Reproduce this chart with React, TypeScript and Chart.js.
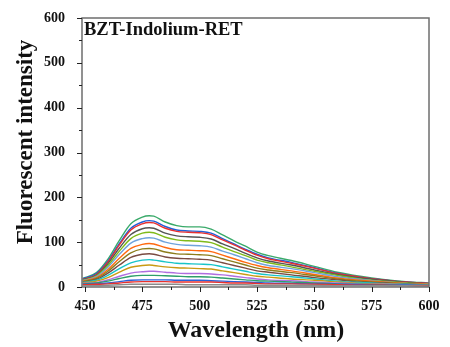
import React, { useEffect, useRef } from "react";
import { Chart, registerables } from "chart.js";
Chart.register(...registerables);

const wavelengths = [449, 455, 460, 465, 470, 475, 478, 480, 485, 490, 495, 500, 505, 510, 515, 520, 525, 530, 540, 550, 560, 570, 580, 590, 600];

const s1 = [19, 32, 62, 104, 141, 156, 159, 158, 145, 137, 134, 134, 129, 116, 103, 91, 78, 70, 59, 46, 33, 24, 17, 12, 9];
const s2 = [18, 30, 58, 97, 131, 145, 148, 147, 135, 127, 125, 124, 120, 108, 96, 84, 73, 65, 55, 43, 31, 22, 16, 11, 8];
const s3 = [17, 28, 56, 94, 127, 141, 144, 143, 131, 124, 122, 121, 117, 105, 94, 82, 71, 63, 53, 42, 30, 22, 16, 11, 8];
const s4 = [16, 26, 52, 87, 117, 130, 132, 131, 120, 114, 112, 111, 107, 96, 86, 75, 65, 58, 49, 38, 28, 20, 15, 10, 7];
const s5 = [15, 25, 48, 80, 108, 120, 122, 121, 111, 105, 103, 102, 99, 89, 79, 70, 60, 54, 45, 35, 26, 18, 13, 9, 7];
const s6 = [14, 23, 44, 73, 98, 108, 110, 109, 100, 95, 93, 92, 89, 80, 72, 63, 54, 48, 41, 32, 23, 17, 12, 8, 6];
const s7 = [13, 21, 39, 64, 86, 95, 97, 96, 88, 83, 82, 81, 79, 71, 63, 55, 48, 43, 36, 28, 20, 15, 11, 8, 6];
const s8 = [12, 19, 35, 57, 76, 85, 86, 85, 78, 74, 73, 72, 70, 63, 56, 49, 42, 38, 32, 25, 18, 13, 10, 7, 5];
const s9 = [11, 17, 31, 49, 66, 73, 74, 73, 67, 64, 63, 62, 60, 54, 48, 42, 36, 33, 27, 21, 16, 11, 9, 6, 5];
const s10 = [10, 15, 26, 41, 54, 60, 61, 60, 56, 53, 52, 51, 50, 45, 40, 35, 30, 27, 23, 18, 13, 10, 8, 6, 5];
const s11 = [9, 13, 21, 33, 44, 48, 49, 48, 45, 43, 42, 41, 40, 36, 32, 28, 24, 22, 18, 15, 11, 8, 7, 5, 4];
const s12 = [8, 10, 16, 24, 31, 34, 35, 35, 33, 31, 30, 30, 29, 27, 24, 21, 18, 16, 14, 11, 9, 7, 6, 5, 4];
const s13 = [7, 9, 13, 19, 24, 26, 26, 26, 25, 24, 23, 23, 22, 20, 18, 16, 14, 13, 11, 9, 7, 6, 5, 4, 4];
const s14 = [6, 7, 9, 12, 15, 16, 16, 16, 16, 15, 15, 15, 14, 13, 12, 11, 10, 9, 8, 7, 6, 5, 4, 4, 3];
const s15 = [5, 6, 7, 9, 11, 12, 12, 12, 12, 11, 11, 11, 11, 10, 9, 9, 8, 7, 7, 6, 5, 4, 4, 3, 3];
const s16 = [3, 3, 4, 5, 6, 6, 6, 6, 6, 6, 5, 5, 5, 5, 5, 5, 4, 4, 4, 4, 3, 3, 3, 3, 2];

const seriesList = [s16, s15, s14, s13, s12, s11, s10, s9, s8, s7, s6, s5, s4, s3, s2, s1];
const seriesColors = [
  "#8c8c8c", "#e8322e", "#2a5fd8", "#2e9e6a", "#b06ee0", "#c99a12", "#18c4c8", "#7a4b42",
  "#8d7d1c", "#ff6a10", "#6fa3dc", "#7fba1a", "#555555", "#e83030", "#2060d8", "#3aaa6a",
];

const xTicks = [450, 475, 500, 525, 550, 575, 600];
const yTicks = [0, 100, 200, 300, 400, 500, 600];
const xMinor = [462.5, 487.5, 512.5, 537.5, 562.5, 587.5];
const yMinor = [50, 150, 250, 350, 450, 550];
const label = "BZT-Indolium-RET";
const xTitle = "Wavelength (nm)";
const yTitle = "Fluorescent intensity";

const FONT = "'Liberation Serif', 'Times New Roman', serif";

const decor = {
  id: "decor",
  afterDraw(chart: any) {
    const { ctx, chartArea: a, scales } = chart;
    const xs = scales.x, ys = scales.y;
    ctx.save();
    ctx.strokeStyle = "#6e6e6e";
    ctx.lineWidth = 1.5;
    ctx.strokeRect(a.left, a.top, a.right - a.left, a.bottom - a.top);
    ctx.strokeStyle = "#222";
    ctx.lineWidth = 1;
    ctx.beginPath();
    xTicks.forEach((v) => { const p = Math.round(xs.getPixelForValue(v)) + 0.5; ctx.moveTo(p, a.bottom); ctx.lineTo(p, a.bottom + 5); });
    xMinor.forEach((v) => { const p = Math.round(xs.getPixelForValue(v)) + 0.5; ctx.moveTo(p, a.bottom); ctx.lineTo(p, a.bottom + 3); });
    yTicks.forEach((v) => { const p = Math.round(ys.getPixelForValue(v)) + 0.5; ctx.moveTo(a.left, p); ctx.lineTo(a.left - 5, p); });
    yMinor.forEach((v) => { const p = Math.round(ys.getPixelForValue(v)) + 0.5; ctx.moveTo(a.left, p); ctx.lineTo(a.left - 3, p); });
    ctx.stroke();
    ctx.fillStyle = "#111";
    ctx.font = `bold 18.5px ${FONT}`;
    ctx.textAlign = "left";
    ctx.textBaseline = "alphabetic";
    ctx.fillText(label, a.left + 2, a.top + 17);
    ctx.font = `bold 24px ${FONT}`;
    ctx.textAlign = "center";
    ctx.textBaseline = "middle";
    ctx.fillText(xTitle, 256, 331);
    ctx.font = `bold 23px ${FONT}`;
    ctx.translate(26, 142);
    ctx.rotate(-Math.PI / 2);
    ctx.fillText(yTitle, 0, 0);
    ctx.restore();
  },
};

export default function App() {
  const ref = useRef<HTMLCanvasElement>(null);
  useEffect(() => {
    document.body.style.margin = "0";
    const chart = new Chart(ref.current!, {
      type: "line",
      data: {
        datasets: seriesList.map((vals, i) => ({
          data: vals.map((y, j) => ({ x: wavelengths[j], y })),
          borderColor: seriesColors[i],
          borderWidth: 1.4,
          pointRadius: 0,
          cubicInterpolationMode: "monotone" as const,
          fill: false,
        })),
      },
      options: {
        responsive: false,
        animation: false,
        layout: { padding: { top: 18, right: 21, left: 0, bottom: 0 } },
        plugins: { legend: { display: false }, tooltip: { enabled: false } },
        scales: {
          x: {
            type: "linear",
            min: 448.7,
            max: 600,
            afterFit: (s: any) => { s.height = 60; },
            afterBuildTicks: (s: any) => { s.ticks = xTicks.map((v) => ({ value: v })); },
            grid: { display: false },
            border: { display: false },
            ticks: { color: "#111", padding: 3, maxRotation: 0, font: { family: FONT, size: 14, weight: "bold" } },
          },
          y: {
            min: 0,
            max: 600,
            afterFit: (s: any) => { s.width = 82; },
            afterBuildTicks: (s: any) => { s.ticks = yTicks.map((v) => ({ value: v })); },
            grid: { display: false },
            border: { display: false },
            ticks: { color: "#111", padding: 9, font: { family: FONT, size: 14, weight: "bold" } },
          },
        },
      },
      plugins: [decor],
    });
    return () => chart.destroy();
  }, []);
  return (
    <div style={{ width: 450, height: 347, background: "#fff" }}>
      <canvas ref={ref} width={450} height={347} />
    </div>
  );
}
